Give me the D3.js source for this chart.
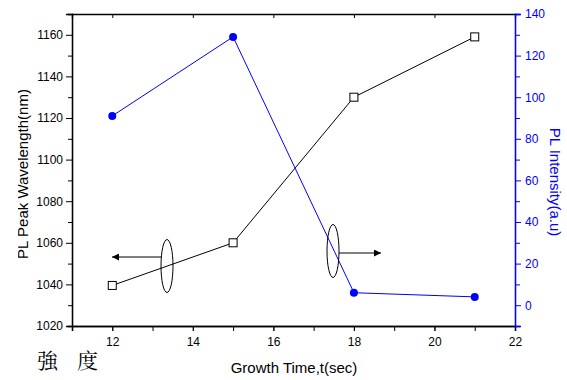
<!DOCTYPE html>
<html>
<head>
<meta charset="utf-8">
<script src="https://cdn.jsdelivr.net/npm/d3@7"></script>
<style>
  body { margin: 0; background: #fff; }
  svg { font-family: Arial, "Liberation Sans", sans-serif; }
</style>
</head>
<body>
<svg width="567" height="380"></svg>
<script>
// growth time (sec) vs peak wavelength and intensity
const times = [12, 15, 18, 21];
const wavelength = [1039.5, 1060, 1130, 1159];
const intensity = [91, 129, 6, 4];
const xTicks = [12, 14, 16, 18, 20, 22];
const leftTicks = [1020, 1040, 1060, 1080, 1100, 1120, 1140, 1160];
const rightTicks = [0, 20, 40, 60, 80, 100, 120, 140];
const cjkLabel = ["強", "度"];

const svg = d3.select("svg"),
    margin = {top: 14, right: 52, bottom: 54, left: 72},
    width = +svg.attr("width") - margin.left - margin.right,
    height = +svg.attr("height") - margin.top - margin.bottom,
    g = svg.append("g").attr("transform", "translate(" + margin.left + "," + margin.top + ")");

const blue = "#0000ff";

const x = d3.scaleLinear().domain([11, 22]).range([0, width]);
const yL = d3.scaleLinear().domain([1020, 1170]).range([height, 0]);
const yR = d3.scaleLinear().domain([-10, 140]).range([height, 0]);

// minor ticks first so major ticks draw on top
g.append("g")
    .attr("transform", "translate(0," + height + ")")
    .call(d3.axisBottom(x).tickValues(d3.range(11, 23, 1)).tickSize(5).tickFormat(""));
g.append("g")
    .attr("transform", "translate(0," + height + ")")
    .call(d3.axisBottom(x).tickValues(xTicks).tickSize(5).tickPadding(6).tickFormat(d3.format("d")));

g.append("g")
    .call(d3.axisTop(x).tickValues(xTicks).tickSize(-4).tickFormat(""));

g.append("g")
    .call(d3.axisLeft(yL).tickValues(d3.range(1030, 1170, 20)).tickSize(4).tickFormat(""));
g.append("g")
    .call(d3.axisLeft(yL).tickValues(leftTicks).tickSize(6).tickPadding(3).tickFormat(d3.format("d")));

const rMinor = g.append("g")
    .attr("transform", "translate(" + width + ",0)")
    .call(d3.axisRight(yR).tickValues(d3.range(-10, 140, 20)).tickSize(5).tickFormat(""));
const rAxis = g.append("g")
    .attr("transform", "translate(" + width + ",0)")
    .call(d3.axisRight(yR).tickValues(rightTicks).tickSize(6).tickPadding(4).tickFormat(d3.format("d")));

g.selectAll(".domain").attr("stroke", "#000").attr("stroke-width", 1.3);
g.selectAll(".tick line").attr("stroke", "#000");
g.selectAll(".tick text").attr("font-size", 12).attr("fill", "#000").attr("font-family", "Arial, 'Liberation Sans', sans-serif");
[rMinor, rAxis].forEach(a => {
  a.select(".domain").attr("stroke", blue);
  a.selectAll(".tick line").attr("stroke", blue);
  a.selectAll(".tick text").attr("fill", blue);
});

// wavelength series
const lineL = d3.line().x((d, i) => x(times[i])).y(d => yL(d));
g.append("path").datum(wavelength)
    .attr("d", lineL).attr("fill", "none").attr("stroke", "#000").attr("stroke-width", 1);
g.selectAll(".sq").data(wavelength).enter().append("rect")
    .attr("x", (d, i) => x(times[i]) - 4)
    .attr("y", d => yL(d) - 4)
    .attr("width", 8).attr("height", 8)
    .attr("fill", "#fff").attr("stroke", "#000").attr("stroke-width", 1);

// intensity series
const lineR = d3.line().x((d, i) => x(times[i])).y(d => yR(d));
g.append("path").datum(intensity)
    .attr("d", lineR).attr("fill", "none").attr("stroke", blue).attr("stroke-width", 1);
g.selectAll(".dot").data(intensity).enter().append("circle")
    .attr("cx", (d, i) => x(times[i]))
    .attr("cy", d => yR(d))
    .attr("r", 4).attr("fill", blue);

// annotation ellipses and arrows
svg.append("defs").append("marker")
    .attr("id", "arr").attr("viewBox", "0 0 10 10").attr("refX", 10).attr("refY", 5)
    .attr("markerWidth", 14).attr("markerHeight", 7).attr("markerUnits", "userSpaceOnUse")
    .attr("orient", "auto")
  .append("path").attr("d", "M0,0 L10,5 L0,10 Z").attr("fill", "#000");

svg.append("ellipse").attr("cx", 167).attr("cy", 266).attr("rx", 6).attr("ry", 26.5)
    .attr("fill", "none").attr("stroke", "#000");
svg.append("line").attr("x1", 161).attr("y1", 257).attr("x2", 112).attr("y2", 257)
    .attr("stroke", "#000").attr("marker-end", "url(#arr)");
svg.append("ellipse").attr("cx", 333).attr("cy", 251).attr("rx", 6).attr("ry", 26.5)
    .attr("fill", "none").attr("stroke", "#000");
svg.append("line").attr("x1", 339).attr("y1", 253).attr("x2", 381).attr("y2", 253)
    .attr("stroke", "#000").attr("marker-end", "url(#arr)");

// axis titles
svg.append("text")
    .attr("x", 294).attr("y", 373)
    .attr("text-anchor", "middle").attr("font-size", 15)
    .text("Growth Time,t(sec)");

// left title: the tops of the glyphs are cut off at the image edge
svg.append("clipPath").attr("id", "lclip")
  .append("rect").attr("x", 18).attr("y", 0).attr("width", 40).attr("height", 380);
svg.append("g").attr("clip-path", "url(#lclip)")
  .append("text")
    .attr("transform", "translate(28,174) rotate(-90)")
    .attr("text-anchor", "middle").attr("font-size", 15)
    .text("PL Peak Wavelength(nm)");

svg.append("text")
    .attr("transform", "translate(550,182) rotate(90)")
    .attr("text-anchor", "middle").attr("font-size", 15).attr("fill", blue)
    .text("PL Intensity(a.u)");

svg.selectAll(".cjk").data(cjkLabel).enter().append("text")
    .attr("x", (d, i) => 37 + i * 40).attr("y", 368)
    .attr("font-size", 21).attr("font-family", "'Noto Serif CJK TC', 'Noto Sans CJK TC', serif")
    .text(d => d);
</script>
</body>
</html>
